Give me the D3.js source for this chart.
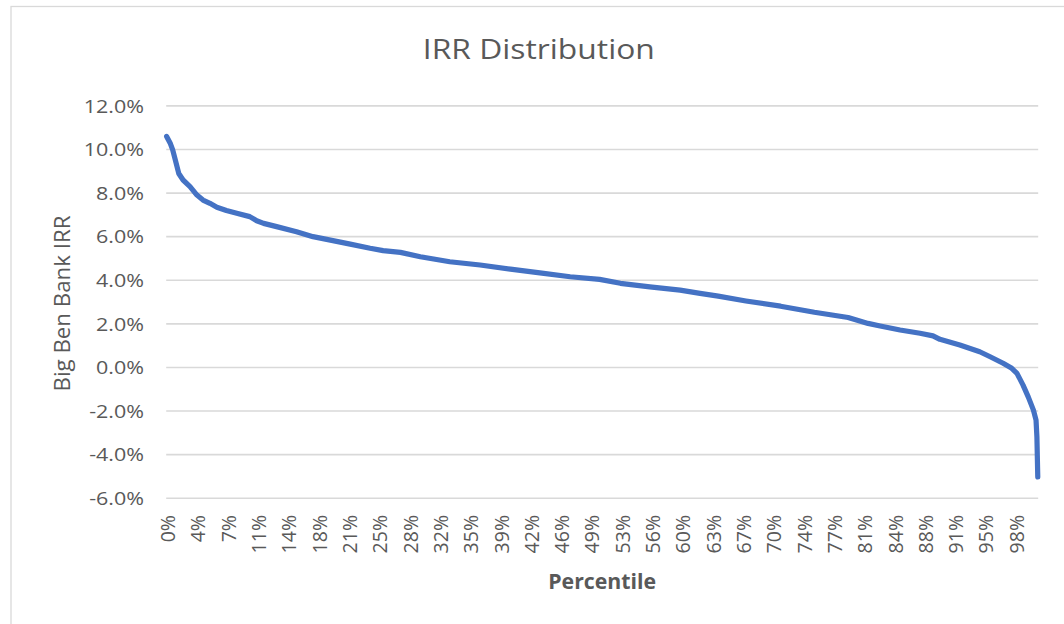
<!DOCTYPE html>
<html>
<head>
<meta charset="utf-8">
<script src="https://cdn.jsdelivr.net/npm/d3@7"></script>
<style>
  html, body { margin: 0; padding: 0; background: #ffffff; }
  svg { display: block; }
  text { font-family: "Open Sans", "Noto Sans", sans-serif; }
</style>
</head>
<body>
<svg id="chart" width="1064" height="624"></svg>
<script>
// ---- Data ----
const chartTitle = "IRR Distribution";
const yAxisTitle = "Big Ben Bank IRR";
const xAxisTitle = "Percentile";

// number of category slots on the x axis and label interval
const categoryCount = 1007;
const tickEvery = 35;
const tickLabels = ["0%","4%","7%","11%","14%","18%","21%","25%","28%","32%","35%","39%","42%","46%","49%",
  "53%","56%","60%","63%","67%","70%","74%","77%","81%","84%","88%","91%","95%","98%"];

// y-axis ticks (fractions)
const yTicks = [0.12, 0.10, 0.08, 0.06, 0.04, 0.02, 0.00, -0.02, -0.04, -0.06];

// sampled points of the curve: category index and IRR (fraction)
const pointIndex = [0, 4, 7, 10, 14, 19, 27, 35, 42, 50, 58, 69, 81, 96, 104, 112, 127, 150, 169, 192,
  212, 235, 250, 270, 293, 327, 362, 397, 431, 466, 500, 524, 558, 593, 616, 637, 669, 709, 748, 787,
  810, 824, 847, 870, 885, 893, 916, 939, 951, 966, 976, 982, 989, 995, 1001, 1004, 1005, 1006];
const irrValues = [0.106, 0.103, 0.0998, 0.0952, 0.089, 0.086, 0.083, 0.0791, 0.0768, 0.0753, 0.0735, 0.072, 0.0707, 0.0692, 0.0673, 0.0661, 0.0646, 0.0623, 0.060, 0.0582,
  0.0566, 0.0547, 0.0536, 0.0528, 0.0508, 0.0485, 0.0470, 0.0451, 0.0434, 0.0416, 0.0404, 0.0386, 0.0370, 0.0355, 0.0340, 0.0327, 0.0305, 0.0281, 0.0253, 0.0229,
  0.0202, 0.0190, 0.0172, 0.0157, 0.0145, 0.0129, 0.0103, 0.0072, 0.0049, 0.0019, -0.0004, -0.0027, -0.0081, -0.0135, -0.0196, -0.0242, -0.0318, -0.0502];

// ---- Drawing ----
const svg = d3.select("#chart");
const plot = { left: 166.2, right: 1038.2, top: 105.9, bottom: 498.2 };

const x = d3.scaleLinear().domain([0, categoryCount]).range([plot.left, plot.right]);
const y = d3.scaleLinear().domain([-0.06, 0.12]).range([plot.bottom, plot.top]);

// chart-area border (extends past the window on the right and bottom)
svg.append("rect")
  .attr("x", 11).attr("y", 6.5)
  .attr("width", 1070).attr("height", 640)
  .attr("fill", "#ffffff")
  .attr("stroke", "#d9d9d9").attr("stroke-width", 1.3);

// gridlines
svg.append("g").selectAll("line").data(yTicks).join("line")
  .attr("x1", plot.left).attr("x2", plot.right)
  .attr("y1", d => y(d)).attr("y2", d => y(d))
  .attr("stroke", "#d9d9d9").attr("stroke-width", 1.6);

// y tick labels
const yFmt = d3.format(".1%");
const yLab = svg.append("g").selectAll("text").data(yTicks).join("text")
  .attr("x", 144).attr("y", d => y(d) + 6.8)
  .attr("text-anchor", "end")
  .attr("font-size", 19)
  .attr("fill", "#595959")
  .text(d => yFmt(d).replace("−", "-"));
yLab.each(function() {
  const w = this.getComputedTextLength();
  d3.select(this).attr("textLength", w * 1.13).attr("lengthAdjust", "spacingAndGlyphs");
});

// x tick labels (rotated)
const xTickData = tickLabels.map((t, k) => ({ label: t, idx: k * tickEvery }));
svg.append("g").selectAll("text").data(xTickData).join("text")
  .attr("transform", d => `translate(${x(d.idx + 0.5) + 1.5},515) rotate(-90)`)
  .attr("text-anchor", "end")
  .attr("dy", "0.36em")
  .attr("font-size", 19.5)
  .attr("fill", "#595959")
  .text(d => d.label);

// the series line
const line = d3.line()
  .x((d, i) => x(pointIndex[i] + 0.5))
  .y(d => y(d));
svg.append("path")
  .datum(irrValues)
  .attr("d", line)
  .attr("fill", "none")
  .attr("stroke", "#4472c4")
  .attr("stroke-width", 5.2)
  .attr("stroke-linejoin", "round")
  .attr("stroke-linecap", "round");

// title
svg.append("text")
  .attr("x", 538.8).attr("y", 59.3)
  .attr("text-anchor", "middle")
  .attr("font-size", 27)
  .attr("fill", "#595959")
  .attr("textLength", 232).attr("lengthAdjust", "spacingAndGlyphs")
  .text(chartTitle);

// y axis title
svg.append("text")
  .attr("transform", `translate(69.5,303.5) rotate(-90)`)
  .attr("text-anchor", "middle")
  .attr("font-size", 21)
  .attr("fill", "#595959")
  .attr("textLength", 176).attr("lengthAdjust", "spacingAndGlyphs")
  .text(yAxisTitle);

// x axis title
svg.append("text")
  .attr("x", 602.2).attr("y", 589)
  .attr("text-anchor", "middle")
  .attr("font-size", 22)
  .attr("font-weight", "bold")
  .attr("fill", "#595959")
  .attr("textLength", 108).attr("lengthAdjust", "spacingAndGlyphs")
  .text(xAxisTitle);
</script>
</body>
</html>
